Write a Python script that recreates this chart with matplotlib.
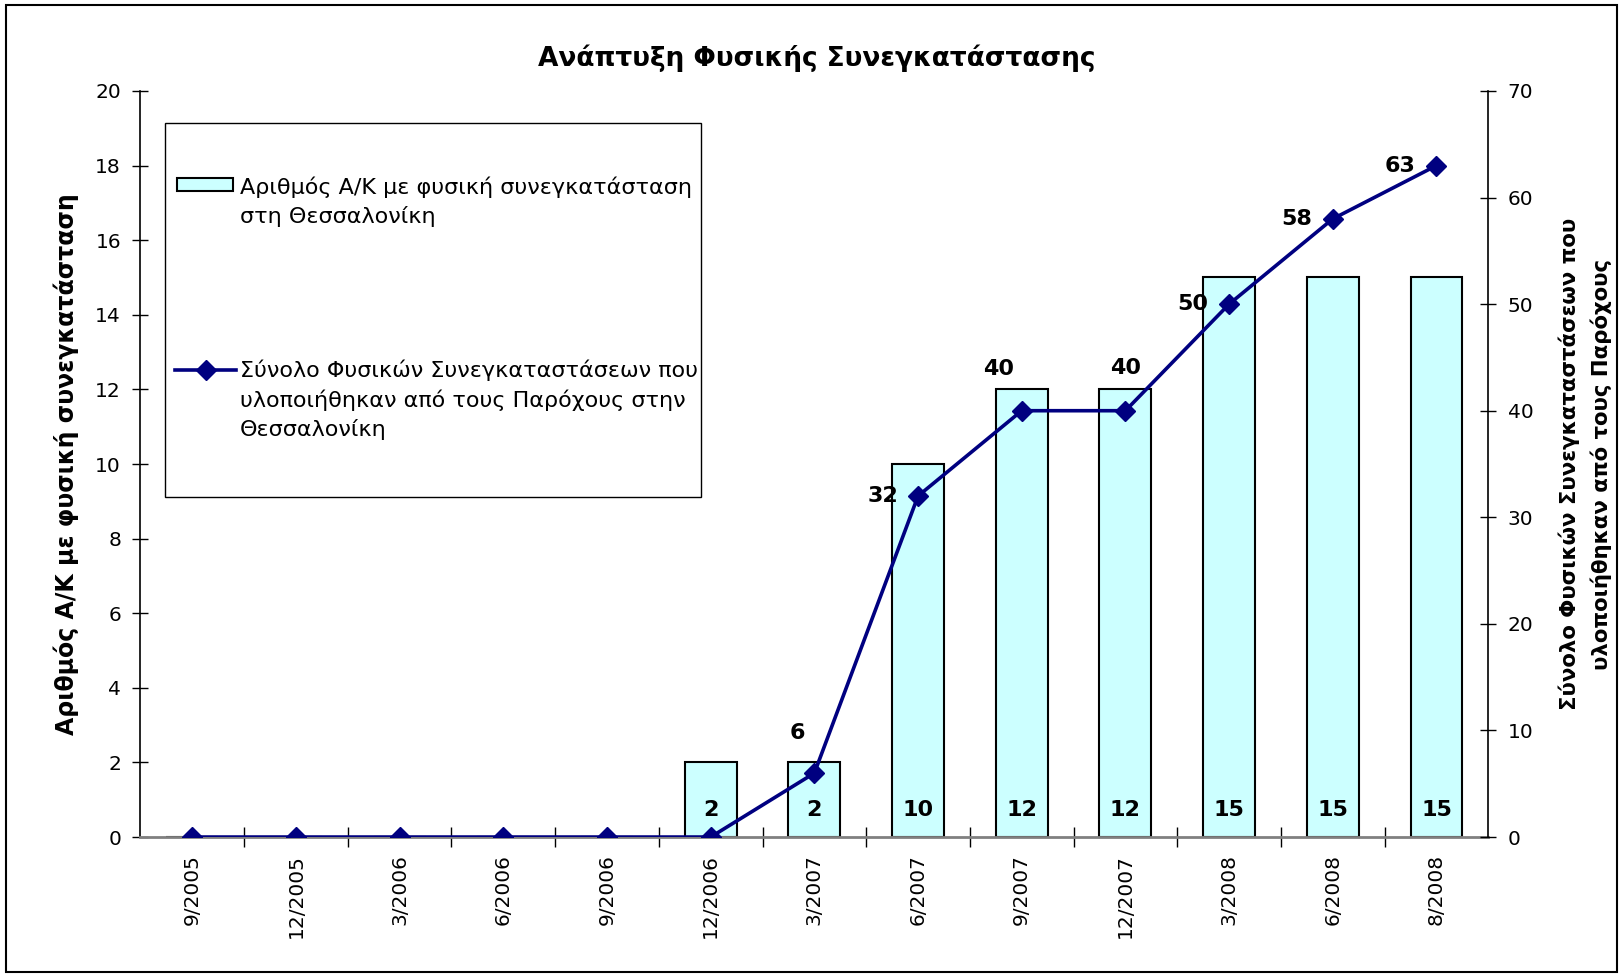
import matplotlib
matplotlib.use("Agg")
import matplotlib.pyplot as plt
from matplotlib.patches import Rectangle
from matplotlib.lines import Line2D

periods = ["9/2005", "12/2005", "3/2006", "6/2006", "9/2006", "12/2006",
           "3/2007", "6/2007", "9/2007", "12/2007", "3/2008", "6/2008", "8/2008"]
bar_vals = [0, 0, 0, 0, 0, 2, 2, 10, 12, 12, 15, 15, 15]
line_vals = [0, 0, 0, 0, 0, 0, 6, 32, 40, 40, 50, 58, 63]

bar_label = "Αριθμός Α/Κ με φυσική συνεγκατάσταση\nστη Θεσσαλονίκη"
line_label = "Σύνολο Φυσικών Συνεγκαταστάσεων που\nυλοποιήθηκαν από τους Παρόχους στην\nΘεσσαλονίκη"

# label offsets (points) for the line values, Excel put them by hand
line_offsets = [(0, 0)] * 6 + [(-12, 29), (-25, 0), (-17, 30), (0, 31), (-26, 0), (-26, 0), (-26, 0)]

bar_color = "#CCFFFF"
line_color = "#000080"

plt.rcParams["font.family"] = "DejaVu Sans"

fig = plt.figure(figsize=(16.2, 9.75), dpi=100)
ax = fig.add_axes([0.0867, 0.1415, 0.832, 0.7652])
ax2 = ax.twinx()

x = list(range(len(periods)))
ax.bar(x, bar_vals, width=0.5, color=bar_color, edgecolor="black", linewidth=1.5, zorder=2)
for xi, v in zip(x, bar_vals):
    if v > 0:
        ax.annotate(str(v), (xi, 0), xytext=(0, 19.5), textcoords="offset points",
                    ha="center", va="center", fontsize=16, fontweight="bold")

ax2.plot(x, line_vals, color=line_color, linewidth=2.6, marker="D", markersize=10.5,
         markerfacecolor=line_color, markeredgecolor=line_color, zorder=3)
for xi, v, off in zip(x, line_vals, line_offsets):
    if v > 0:
        ax2.annotate(str(v), (xi, v), xytext=off, textcoords="offset points",
                     ha="center", va="center", fontsize=16, fontweight="bold")

ax.set_xlim(-0.5, len(periods) - 0.5)
ax.set_ylim(0, 20)
ax2.set_ylim(0, 70)
ax.set_yticks(range(0, 21, 2))
ax2.set_yticks(range(0, 71, 10))

ax.set_xticks(x)
ax.set_xticklabels(periods, rotation=90, fontsize=14.5)
ax.set_xticks([i + 0.5 for i in x[:-1]], minor=True)
ax.tick_params(axis="x", which="major", length=0, pad=12)
ax.tick_params(axis="x", which="minor", direction="inout", length=14, width=1, color="black")
ax.tick_params(axis="y", direction="inout", length=12, width=1, labelsize=14.5, pad=8)
ax2.tick_params(axis="y", direction="inout", length=12, width=1, labelsize=14.5, pad=8)

for a in (ax, ax2):
    a.spines["top"].set_visible(False)
ax.spines["right"].set_visible(False)
ax2.spines["left"].set_visible(False)
ax2.spines["bottom"].set_visible(False)
ax.spines["bottom"].set_color("#808080")
ax.spines["bottom"].set_linewidth(2)
ax.spines["left"].set_linewidth(1.2)
ax2.spines["right"].set_linewidth(1.2)

ax.set_ylabel("Αριθμός Α/Κ με φυσική συνεγκατάσταση", fontsize=17, fontweight="bold", labelpad=12)
ax2.set_ylabel("Σύνολο Φυσικών Συνεγκαταστάσεων που\nυλοποιήθηκαν από τους Παρόχους",
               fontsize=15.3, fontweight="bold", labelpad=18, rotation=90, linespacing=1.6)

fig.text(0.504, 0.940, "Ανάπτυξη Φυσικής Συνεγκατάστασης", ha="center", va="center",
         fontsize=19, fontweight="bold")

# hand-built legend to mimic Excel layout
tr = ax.transAxes
ax.add_patch(Rectangle((0.018, 0.4558), 0.3977, 0.5012, transform=tr, fill=True,
                       facecolor="white", edgecolor="black", linewidth=1, zorder=5))
ax.add_patch(Rectangle((0.0272, 0.866), 0.0416, 0.0178, transform=tr,
                       facecolor=bar_color, edgecolor="black", linewidth=1.5, zorder=6))
ax.text(0.0736, 0.886, bar_label, transform=tr, ha="left", va="top", fontsize=16,
        linespacing=1.47, zorder=6)
ax.add_line(Line2D([0.026, 0.0707], [0.626, 0.626], transform=tr, color=line_color,
                   linewidth=2.6, zorder=6))
ax.add_line(Line2D([0.0483], [0.626], transform=tr, color=line_color, marker="D",
                   markersize=10.5, zorder=7))
ax.text(0.0736, 0.640, line_label, transform=tr, ha="left", va="top", fontsize=16,
        linespacing=1.47, zorder=6)

# outer chart border
fig.add_artist(Rectangle((0.004, 0.003), 0.994, 0.992, transform=fig.transFigure,
                         fill=False, edgecolor="black", linewidth=1.5))

fig.savefig("out.png", dpi=100)
